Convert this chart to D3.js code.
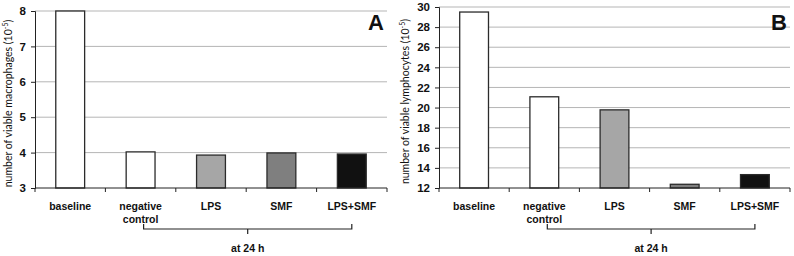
<!DOCTYPE html>
<html>
<head>
<meta charset="utf-8">
<script src="https://cdn.jsdelivr.net/npm/d3@7"></script>
<style>
  body { margin: 0; background: #fff; }
  svg text { font-family: "Liberation Sans", Arial, sans-serif; fill: #111; }
</style>
</head>
<body>
<div id="chart"></div>
<script>
const categories = ["baseline", "negative control", "LPS", "SMF", "LPS+SMF"];
const barColors = ["#ffffff", "#ffffff", "#a6a6a6", "#7f7f7f", "#111111"];

const macrophages = [8.0, 4.02, 3.93, 3.99, 3.96];
const lymphocytes = [29.5, 21.07, 19.77, 12.37, 13.33];

const macroTicks = [3, 4, 5, 6, 7, 8];
const lymphoTicks = [12, 14, 16, 18, 20, 22, 24, 26, 28, 30];

const W = 794, H = 256;
const svg = d3.select("#chart").append("svg")
    .attr("width", W)
    .attr("height", H);

function drawPanel(opts) {
    const g = svg.append("g").attr("transform", `translate(${opts.x0},0)`);
    const left = opts.left, right = opts.right, top = opts.top, bottom = 188;

    const x = d3.scaleBand().domain(categories).range([left, right]).paddingInner(0).paddingOuter(0);
    const y = d3.scaleLinear().domain(opts.domain).range([bottom, top]);

    // gridlines
    g.selectAll("line.grid").data(opts.ticks.slice(1))
        .join("line")
        .attr("class", "grid")
        .attr("x1", left).attr("x2", right)
        .attr("y1", d => y(d)).attr("y2", d => y(d))
        .attr("stroke", "#b5b5b5").attr("stroke-width", 1);

    // bars
    const bw = x.bandwidth() * 0.41;
    g.selectAll("rect.bar").data(opts.values)
        .join("rect")
        .attr("class", "bar")
        .attr("x", (d, i) => x(categories[i]) + (x.bandwidth() - bw) / 2)
        .attr("width", bw)
        .attr("y", d => y(d))
        .attr("height", d => bottom - y(d))
        .attr("fill", (d, i) => barColors[i])
        .attr("stroke", "#2b2b2b")
        .attr("stroke-width", 1.3);

    // y axis
    const yAxis = g.append("g")
        .attr("transform", `translate(${left},0)`)
        .call(d3.axisLeft(y).tickValues(opts.ticks).tickFormat(d3.format("d")).tickSize(4).tickPadding(5));
    yAxis.attr("font-family", null).attr("font-size", null);
    yAxis.select(".domain").attr("stroke", "#222");
    yAxis.selectAll(".tick line").attr("stroke", "#222");
    yAxis.selectAll(".tick text")
        .attr("fill", "#111")
        .style("font-size", "11.5px")
        .style("font-weight", "700");

    // x axis
    g.append("line")
        .attr("x1", left).attr("x2", right)
        .attr("y1", bottom).attr("y2", bottom)
        .attr("stroke", "#222");
    const bounds = categories.map(c => x(c)).concat([right]);
    g.selectAll("line.xtick").data(bounds)
        .join("line")
        .attr("class", "xtick")
        .attr("x1", d => d).attr("x2", d => d)
        .attr("y1", bottom).attr("y2", bottom + 4)
        .attr("stroke", "#222");

    // category labels
    categories.forEach((c, i) => {
        const cx = x(c) + x.bandwidth() / 2;
        const lines = c === "negative control" ? ["negative", "control"] : [c];
        lines.forEach((t, j) => {
            g.append("text")
                .attr("x", cx)
                .attr("y", 210 + j * 13)
                .attr("text-anchor", "middle")
                .style("font-size", "10.5px")
                .style("font-weight", "700")
                .text(t);
        });
    });

    // bracket
    const bx1 = x(categories[1]) + x.bandwidth() / 2 + 3;
    const bx2 = x(categories[4]) + x.bandwidth() / 2;
    const bmid = (bx1 + bx2) / 2;
    g.append("path")
        .attr("d", `M${bx1},224 L${bx1},229 L${bx2},229 L${bx2},224 M${bmid},229 L${bmid},234`)
        .attr("fill", "none")
        .attr("stroke", "#222")
        .attr("stroke-width", 1.2);
    g.append("text")
        .attr("x", bmid)
        .attr("y", 252)
        .attr("text-anchor", "middle")
        .style("font-size", "10.5px")
        .style("font-weight", "700")
        .text("at 24 h");

    // y title
    const yt = g.append("text")
        .attr("transform", `translate(${opts.titleX},${(top + bottom) / 2 + 4}) rotate(-90)`)
        .attr("text-anchor", "middle")
        .style("font-family", "Lato, 'Open Sans', sans-serif")
        .style("font-size", "10.5px");
    yt.append("tspan").text(opts.title + " (10");
    yt.append("tspan").attr("dy", -4).style("font-size", "7px").text("-5");
    yt.append("tspan").attr("dy", 4).text(")");

    // panel letter
    g.append("text")
        .attr("x", right - 3)
        .attr("y", 30)
        .attr("text-anchor", "end")
        .style("font-size", "22px")
        .style("font-weight", "700")
        .text(opts.letter);
}

drawPanel({
    x0: 0, left: 35, right: 387, top: 11,
    domain: [3, 8], ticks: macroTicks, values: macrophages,
    title: "number of viable macrophages", titleX: 12, letter: "A"
});

drawPanel({
    x0: 400, left: 39, right: 390, top: 7,
    domain: [12, 30], ticks: lymphoTicks, values: lymphocytes,
    title: "number of viable lymphocytes", titleX: 9, letter: "B"
});
</script>
</body>
</html>
